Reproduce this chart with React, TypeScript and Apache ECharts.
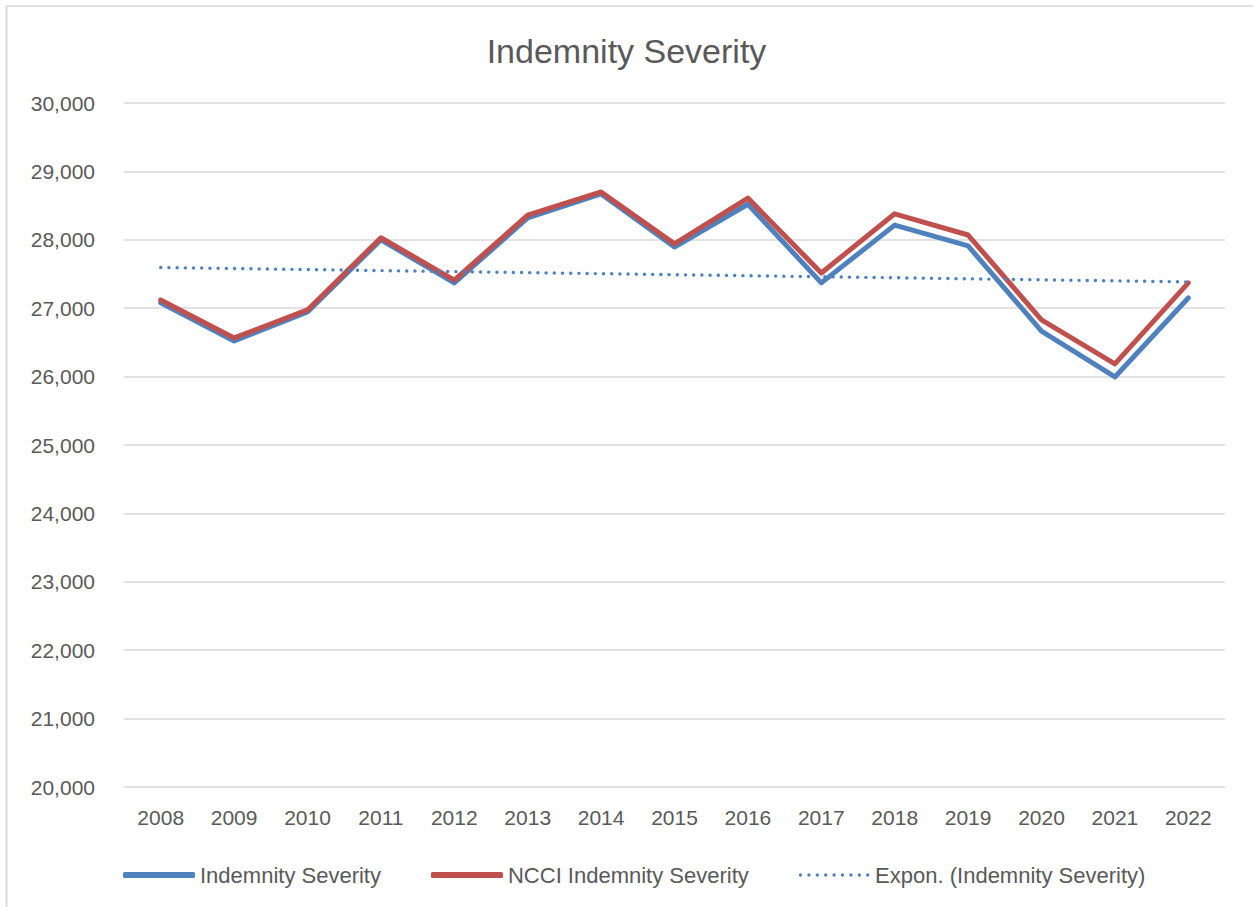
import React, { useEffect, useRef } from "react";
import * as echarts from "echarts";

const years = ["2008","2009","2010","2011","2012","2013","2014","2015","2016","2017","2018","2019","2020","2021","2022"];
const indemnitySeverity = [27080, 26520, 26945, 28000, 27370, 28320, 28670, 27895, 28520, 27370, 28215, 27910, 26665, 25995, 27150];
const ncciIndemnitySeverity = [27120, 26565, 26975, 28030, 27410, 28360, 28700, 27940, 28610, 27515, 28380, 28070, 26830, 26185, 27370];
const exponTrend = [27595, 27580, 27565, 27550, 27535, 27520, 27505, 27490, 27475, 27460, 27445, 27430, 27415, 27400, 27385];

const FONT = "Liberation Sans";
const TEXT = "#595959";

function dottedIcon(): string {
  let d = "M0,0 L0,6 ";
  for (let i = 0; i < 9; i++) {
    const cx = 1.7 + i * 8.4;
    d += `M${cx - 1.7},3 a1.7,1.7 0 1,0 3.4,0 a1.7,1.7 0 1,0 -3.4,0 `;
  }
  return "path://" + d;
}

export default function App() {
  const ref = useRef<HTMLDivElement>(null);
  useEffect(() => {
    document.body.style.margin = "0";
    const chart = echarts.init(ref.current!, undefined, { renderer: "svg" });
    chart.setOption({
      animation: false,
      backgroundColor: "#ffffff",
      title: {
        text: "Indemnity Severity",
        left: "center",
        top: 29,
        textStyle: { fontFamily: FONT, fontSize: 34, fontWeight: "normal", color: TEXT },
      },
      grid: { left: 124, right: 28, top: 103, bottom: 120 },
      legend: {
        left: 118,
        top: 859,
        itemWidth: 72,
        itemHeight: 6,
        itemGap: 50,
        textStyle: { fontFamily: FONT, fontSize: 22, color: TEXT },
        data: [
          { name: "Indemnity Severity", icon: "roundRect", itemStyle: { color: "#4F81BD" } },
          { name: "NCCI Indemnity Severity", icon: "roundRect", itemStyle: { color: "#C0504D" } },
          { name: "Expon. (Indemnity Severity)", icon: dottedIcon(), itemStyle: { color: "#4F81BD", borderWidth: 0 } },
        ],
      },
      xAxis: {
        type: "category",
        data: years,
        boundaryGap: true,
        axisLine: { show: false },
        axisTick: { show: false },
        axisLabel: { fontFamily: FONT, fontSize: 21, color: TEXT, margin: 20 },
      },
      yAxis: {
        type: "value",
        min: 20000,
        max: 30000,
        interval: 1000,
        axisLine: { show: false },
        axisTick: { show: false },
        axisLabel: {
          fontFamily: FONT,
          fontSize: 21,
          color: TEXT,
          margin: 29,
          formatter: (v: number) => v.toLocaleString("en-US"),
        },
        splitLine: { lineStyle: { color: "#D9D9D9", width: 1.5 } },
      },
      series: [
        {
          name: "Indemnity Severity",
          type: "line",
          data: indemnitySeverity,
          symbol: "none",
          lineStyle: { color: "#4F81BD", width: 5, cap: "round", join: "round" },
          itemStyle: { color: "#4F81BD" },
        },
        {
          name: "NCCI Indemnity Severity",
          type: "line",
          data: ncciIndemnitySeverity,
          symbol: "none",
          lineStyle: { color: "#C0504D", width: 5, cap: "round", join: "round" },
          itemStyle: { color: "#C0504D" },
        },
        {
          name: "Expon. (Indemnity Severity)",
          type: "line",
          data: exponTrend,
          symbol: "none",
          lineStyle: { color: "#4F81BD", width: 3.4, type: [0.1, 8.1], cap: "round" },
          itemStyle: { color: "#4F81BD" },
        },
      ],
      graphic: [
        { type: "line", shape: { x1: 6, y1: 6, x2: 1253, y2: 6 }, style: { stroke: "#D9D9D9", lineWidth: 1.5 } },
        { type: "line", shape: { x1: 6.5, y1: 6, x2: 6.5, y2: 907 }, style: { stroke: "#D9D9D9", lineWidth: 2 } },
      ],
    });
    return () => chart.dispose();
  }, []);
  return <div ref={ref} style={{ position: "absolute", left: 0, top: 0, width: 1253, height: 907 }} />;
}
